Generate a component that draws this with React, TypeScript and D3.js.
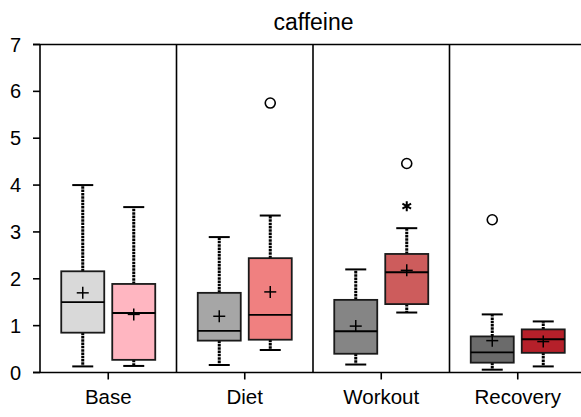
import React from "react";
import * as d3 from "d3";

const categories = ["Base", "Diet", "Workout", "Recovery"];
const yTicks = [0, 1, 2, 3, 4, 5, 6, 7];

const controlLow = [0.13, 0.16, 0.17, 0.06];
const controlQ1 = [0.85, 0.68, 0.4, 0.21];
const controlMedian = [1.5, 0.89, 0.88, 0.43];
const controlQ3 = [2.16, 1.7, 1.55, 0.77];
const controlHigh = [4.0, 2.89, 2.2, 1.24];
const controlMean = [1.7, 1.2, 0.99, 0.68];
const controlOutliers: number[][] = [[], [], [], [3.26]];
const controlExtremes: number[][] = [[], [], [], []];

const treatLow = [0.14, 0.48, 1.28, 0.13];
const treatQ1 = [0.27, 0.7, 1.46, 0.42];
const treatMedian = [1.27, 1.23, 2.14, 0.71];
const treatQ3 = [1.89, 2.44, 2.53, 0.92];
const treatHigh = [3.53, 3.35, 3.08, 1.09];
const treatMean = [1.24, 1.72, 2.18, 0.66];
const treatOutliers: number[][] = [[], [5.75], [4.46], []];
const treatExtremes: number[][] = [[], [], [3.55], []];

const controlColors = ["#d9d9d9", "#a6a6a6", "#858585", "#6b6b6b"];
const treatColors = ["#ffb6c1", "#f08080", "#cd5c5c", "#b5202a"];

const W = 581;
const H = 417;
const left = 40;
const right = 586;
const top = 44.5;
const bottom = 372.5;

export default function App() {
  const x = d3.scaleBand<string>().domain(categories).range([left, right]).padding(0);
  const y = d3.scaleLinear().domain([0, 7]).range([bottom, top]);
  const boxW = 43;
  const capW = 21;
  const offset = 25.5;
  const font = "'Liberation Sans', Arial, sans-serif";
  const asterisk = d3.symbol().type(d3.symbolAsterisk).size(70)() as string;

  const series = [
    { low: controlLow, q1: controlQ1, med: controlMedian, q3: controlQ3, high: controlHigh, mean: controlMean, out: controlOutliers, ext: controlExtremes, colors: controlColors, dx: -offset },
    { low: treatLow, q1: treatQ1, med: treatMedian, q3: treatQ3, high: treatHigh, mean: treatMean, out: treatOutliers, ext: treatExtremes, colors: treatColors, dx: offset },
  ];

  return (
    <svg width={W} height={H} style={{ position: "absolute", left: 0, top: 0, background: "#fff" }}>
      <text x={313.5} y={30} textAnchor="middle" fontFamily={font} fontSize={23} fill="#000">caffeine</text>
      {/* frame */}
      <line x1={33} x2={W} y1={top} y2={top} stroke="#000" strokeWidth={1.6} />
      <line x1={33} x2={W} y1={bottom} y2={bottom} stroke="#000" strokeWidth={1.6} />
      <line x1={left} x2={left} y1={top} y2={bottom} stroke="#000" strokeWidth={1.6} />
      {categories.slice(1).map((c) => (
        <line key={c} x1={x(c)!} x2={x(c)!} y1={top} y2={bottom} stroke="#000" strokeWidth={1.6} />
      ))}
      {yTicks.map((t) => (
        <g key={t}>
          <line x1={33} x2={left} y1={y(t)} y2={y(t)} stroke="#000" strokeWidth={1.6} />
          <text x={21} y={y(t) + 7} textAnchor="end" fontFamily={font} fontSize={20} fill="#000">{t}</text>
        </g>
      ))}
      {categories.map((c) => {
        const cx = x(c)! + x.bandwidth() / 2;
        return (
          <g key={c}>
            <line x1={cx} x2={cx} y1={bottom} y2={bottom + 7} stroke="#000" strokeWidth={1.6} />
            <text x={cx} y={bottom + 31} textAnchor="middle" fontFamily={font} fontSize={20.5} fill="#000">{c}</text>
          </g>
        );
      })}
      {categories.map((c, i) =>
        series.map((s, si) => {
          const cx = x(c)! + x.bandwidth() / 2 + s.dx;
          return (
            <g key={c + si}>
              <line x1={cx} x2={cx} y1={y(s.q3[i])} y2={y(s.high[i])} stroke="#000" strokeWidth={3} strokeDasharray="2.5,0.8" />
              <line x1={cx} x2={cx} y1={y(s.q1[i])} y2={y(s.low[i])} stroke="#000" strokeWidth={3} strokeDasharray="2.5,0.8" />
              <line x1={cx - capW / 2} x2={cx + capW / 2} y1={y(s.high[i])} y2={y(s.high[i])} stroke="#000" strokeWidth={2} />
              <line x1={cx - capW / 2} x2={cx + capW / 2} y1={y(s.low[i])} y2={y(s.low[i])} stroke="#000" strokeWidth={2} />
              <rect x={cx - boxW / 2} width={boxW} y={y(s.q3[i])} height={y(s.q1[i]) - y(s.q3[i])} fill={s.colors[i]} stroke="#1a1a1a" strokeWidth={1.8} />
              <line x1={cx - boxW / 2} x2={cx + boxW / 2} y1={y(s.med[i])} y2={y(s.med[i])} stroke="#000" strokeWidth={1.8} />
              <line x1={cx - 6} x2={cx + 6} y1={y(s.mean[i])} y2={y(s.mean[i])} stroke="#000" strokeWidth={1.5} />
              <line x1={cx} x2={cx} y1={y(s.mean[i]) - 6} y2={y(s.mean[i]) + 6} stroke="#000" strokeWidth={1.5} />
              {s.out[i].map((v, k) => (
                <circle key={k} cx={cx} cy={y(v)} r={5} fill="#fff" stroke="#000" strokeWidth={1.6} />
              ))}
              {s.ext[i].map((v, k) => (
                <path key={k} d={asterisk} transform={`translate(${cx},${y(v)})`} stroke="#000" strokeWidth={2} fill="none" />
              ))}
            </g>
          );
        })
      )}
    </svg>
  );
}
